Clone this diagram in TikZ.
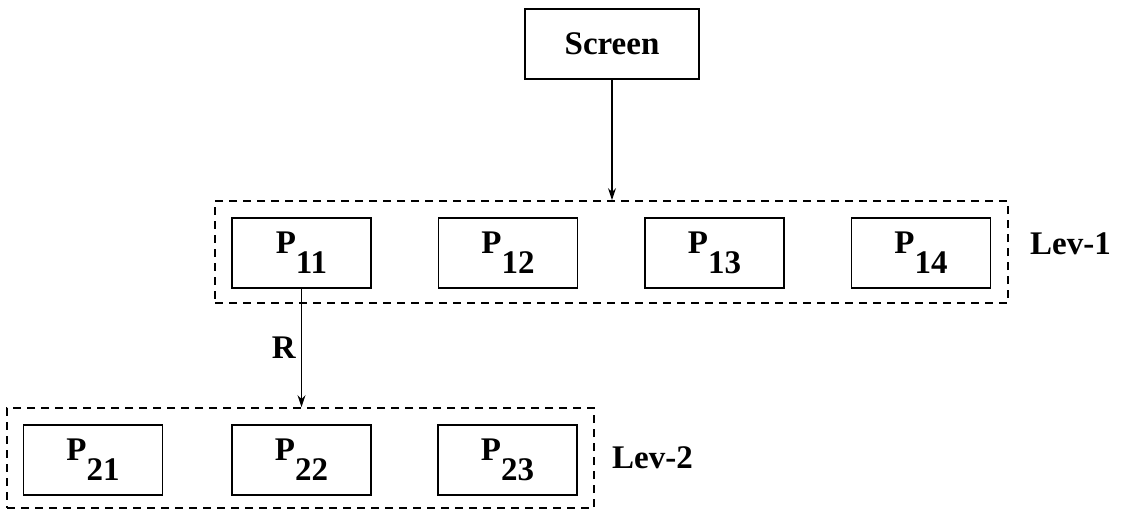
\documentclass[tikz,border=0pt]{standalone}
\usepackage{fontspec}
\setmainfont{Liberation Serif}
\usetikzlibrary{arrows.meta}
\newcommand{\lbl}{\fontsize{33}{38}\selectfont\bfseries}
\newcommand{\Pn}[1]{P\raisebox{-0.6em}{#1}}
\begin{document}
\begin{tikzpicture}[x=1pt,y=-1pt,
  box/.style={draw, line width=1.8pt, minimum width=139pt, minimum height=70pt, inner sep=0pt, font=\lbl},
  grp/.style={draw, line width=1.8pt, dash pattern=on 8pt off 6pt, minimum width=#1, inner sep=0pt},
  conn/.style={line width=1.8pt, -{Stealth[length=12pt,width=8pt]}},
  lab/.style={font=\lbl, inner sep=0pt}]
\useasboundingbox (0,0) rectangle (1122,511);
% groups
\node[grp=793pt, minimum height=102pt] (lev1) at (611.5,252) {};
\node[grp=587pt, minimum height=100pt] (lev2) at (300.5,458) {};
% boxes
\node[box, minimum width=174pt] (screen) at (612,44) {Screen};
\node[box] (p11) at (301.5,253) {\Pn{11}};
\node[box] (p12) at (508,253) {\Pn{12}};
\node[box] (p13) at (714.5,253) {\Pn{13}};
\node[box] (p14) at (921,253) {\Pn{14}};
\node[box] (p21) at (93,460) {\Pn{21}};
\node[box] (p22) at (301.5,460) {\Pn{22}};
\node[box] (p23) at (507.5,460) {\Pn{23}};
% labels
\node[lab, anchor=west] (l1) at (1030,244) {Lev-1};
\node[lab, anchor=west] (l2) at (612,458) {Lev-2};
% connectors
\draw[conn] (screen.south) -- (screen.south |- lev1.north);
\draw[conn] (p11.south) -- node[lab, left=5pt] (r) {R} (p11.south |- lev2.north);
\end{tikzpicture}
\end{document}
